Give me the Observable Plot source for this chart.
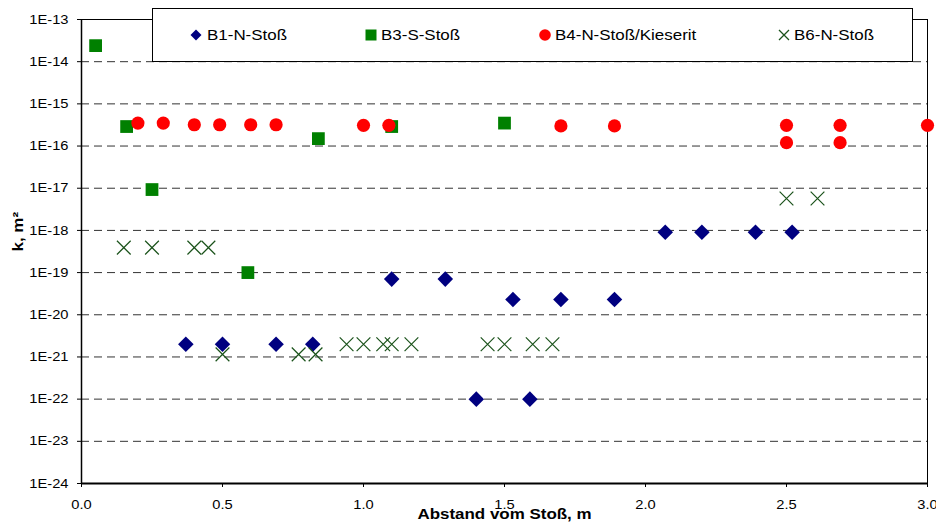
<!DOCTYPE html>
<html>
<head>
<meta charset="utf-8">
<script src="https://cdn.jsdelivr.net/npm/d3@7"></script>
<script src="https://cdn.jsdelivr.net/npm/@observablehq/plot@0.6"></script>
<style>
  html, body { margin: 0; padding: 0; background: #fff; }
  #wrap { position: relative; width: 936px; height: 526px; font-family: "Liberation Sans", Arial, sans-serif; }
  #legend { position: absolute; left: 152px; top: 8px; width: 761px; height: 54px; box-sizing: border-box;
            border: 1px solid #000; background: #fff; }
  .item { position: absolute; top: 0; height: 52px; }
  .item svg { position: absolute; top: 20px; }
  .item span { position: absolute; top: 17px; white-space: nowrap; font-size: 15px; color: #000;
               transform: scaleX(1.13); transform-origin: left center; line-height: 18px; }
</style>
</head>
<body>
<div id="wrap"></div>
<script>
// ---- data ----
const seriesNames = ["B1-N-Stoß", "B3-S-Stoß", "B4-N-Stoß/Kieserit", "B6-N-Stoß"];

const b1X = [0.37, 0.50, 0.69, 0.82, 1.10, 1.29, 1.40, 1.53, 1.59, 1.70, 1.89, 2.07, 2.20, 2.39, 2.52];
const b1K = [2e-21, 2e-21, 2e-21, 2e-21, 7e-20, 7e-20, 1e-22, 2.3e-20, 1e-22, 2.3e-20, 2.3e-20, 9e-19, 9e-19, 9e-19, 9e-19];

const b3X = [0.05, 0.16, 0.25, 0.59, 0.84, 1.10, 1.50];
const b3K = [2.4e-14, 2.9e-16, 9.3e-18, 1e-19, 1.5e-16, 2.9e-16, 3.5e-16];

const b4X = [0.20, 0.29, 0.40, 0.49, 0.60, 0.69, 1.00, 1.09, 1.70, 1.89, 2.50, 2.50, 2.69, 2.69, 3.00];
const b4K = [3.5e-16, 3.5e-16, 3.2e-16, 3.2e-16, 3.2e-16, 3.2e-16, 3.1e-16, 3.1e-16, 3.0e-16, 3.0e-16, 3.1e-16, 1.2e-16, 3.1e-16, 1.2e-16, 3.1e-16];

const b6X = [0.15, 0.25, 0.40, 0.45, 0.50, 0.77, 0.83, 0.94, 1.00, 1.07, 1.10, 1.17, 1.44, 1.50, 1.60, 1.67, 2.50, 2.61];
const b6K = [3.9e-19, 3.9e-19, 3.9e-19, 3.9e-19, 1.15e-21, 1.15e-21, 1.15e-21, 2e-21, 2e-21, 2e-21, 2e-21, 2e-21, 2e-21, 2e-21, 2e-21, 2e-21, 5.7e-18, 5.7e-18];

const xTicks = [0, 0.5, 1.0, 1.5, 2.0, 2.5, 3.0];
const yTicks = [1e-24, 1e-23, 1e-22, 1e-21, 1e-20, 1e-19, 1e-18, 1e-17, 1e-16, 1e-15, 1e-14, 1e-13];
const gridTicks = yTicks.slice(1, -1);
const xTitle = "Abstand vom Stoß, m";
const yTitle = "k, m²";

// ---- build ----
const pts = (xs, ks) => xs.map((x, i) => ({x, k: ks[i]}));
const xDomain = [xTicks[0], xTicks[xTicks.length - 1]];
const yDomain = [yTicks[0], yTicks[yTicks.length - 1]];
const fmtY = d => "1E" + Math.round(Math.log10(d));

const colors = {b1: "#000080", b3: "#008000", b4: "#ff0000", b6: "#1a521a"};

const chart = Plot.plot({
  width: 936, height: 526,
  marginLeft: 81, marginRight: 9, marginTop: 19, marginBottom: 43,
  style: {fontFamily: "'Liberation Sans', Arial, sans-serif", fontSize: "13px", color: "#000", background: "#fff", overflow: "visible"},
  x: {domain: xDomain},
  y: {type: "log", domain: yDomain},
  marks: [
    Plot.gridY(gridTicks, {stroke: "#333", strokeOpacity: 1, strokeDasharray: "8,5", strokeWidth: 1}),
    Plot.frame({stroke: "#000", strokeWidth: 1}),
    Plot.axisX(xTicks, {tickSize: 4, tickPadding: 12, tickFormat: d3.format(".1f"), label: null, fontSize: 13}),
    Plot.axisY(yTicks, {tickSize: 4, tickPadding: 9, tickFormat: fmtY, label: null, fontSize: 13}),
    Plot.ruleY([yDomain[0]], {stroke: "#000", strokeWidth: 2}),
    Plot.ruleX([xDomain[0]], {stroke: "#000", strokeWidth: 1.5}),
    Plot.dot(pts(b1X, b1K), {x: "x", y: "k", symbol: "diamond2", r: 7, fill: colors.b1}),
    Plot.dot(pts(b3X, b3K), {x: "x", y: "k", symbol: "square", r: 7.2, fill: colors.b3}),
    Plot.dot(pts(b4X, b4K), {x: "x", y: "k", symbol: "circle", r: 6.6, fill: colors.b4}),
    Plot.dot(pts(b6X, b6K), {x: "x", y: "k", symbol: "times", r: 6.3, stroke: colors.b6, strokeWidth: 1.2}),
    Plot.text([yTitle], {frameAnchor: "left", rotate: -90, dx: -63, fontWeight: "bold", fontSize: 15}),
    Plot.text([xTitle], {frameAnchor: "bottom", dy: 35, fontWeight: "bold", fontSize: 15})
  ]
});

const wrap = document.getElementById("wrap");
wrap.appendChild(chart);

// horizontal text stretch to match reference font proportions
chart.querySelectorAll("text").forEach(t => {
  const len = t.getComputedTextLength();
  if (len > 0) {
    t.setAttribute("textLength", (len * 1.13).toFixed(1));
    t.setAttribute("lengthAdjust", "spacingAndGlyphs");
  }
});

// ---- legend (overlaid on chart top, as in the reference) ----
const legend = document.createElement("div");
legend.id = "legend";
const symbolsSvg = [
  `<svg width="12" height="12" viewBox="-6 -6 12 12"><path d="M0,-5.5L5.5,0L0,5.5L-5.5,0Z" fill="${colors.b1}"/></svg>`,
  `<svg width="12" height="12" viewBox="-6 -6 12 12"><rect x="-5.5" y="-5.5" width="11" height="11" fill="${colors.b3}"/></svg>`,
  `<svg width="12" height="12" viewBox="-6 -6 12 12"><circle r="5.8" fill="${colors.b4}"/></svg>`,
  `<svg width="12" height="12" viewBox="-6 -6 12 12"><path d="M-5,-5L5,5M5,-5L-5,5" stroke="${colors.b6}" stroke-width="1.3"/></svg>`
];
const symLeft = [37, 212, 386, 625];
const textLeft = [54, 228, 402, 641];
seriesNames.forEach((name, i) => {
  const it = document.createElement("div");
  it.className = "item";
  it.style.left = "0px";
  it.innerHTML = symbolsSvg[i];
  it.querySelector("svg").style.left = symLeft[i] + "px";
  const sp = document.createElement("span");
  sp.textContent = name;
  sp.style.left = textLeft[i] + "px";
  it.appendChild(sp);
  legend.appendChild(it);
});
wrap.appendChild(legend);
</script>
</body>
</html>
